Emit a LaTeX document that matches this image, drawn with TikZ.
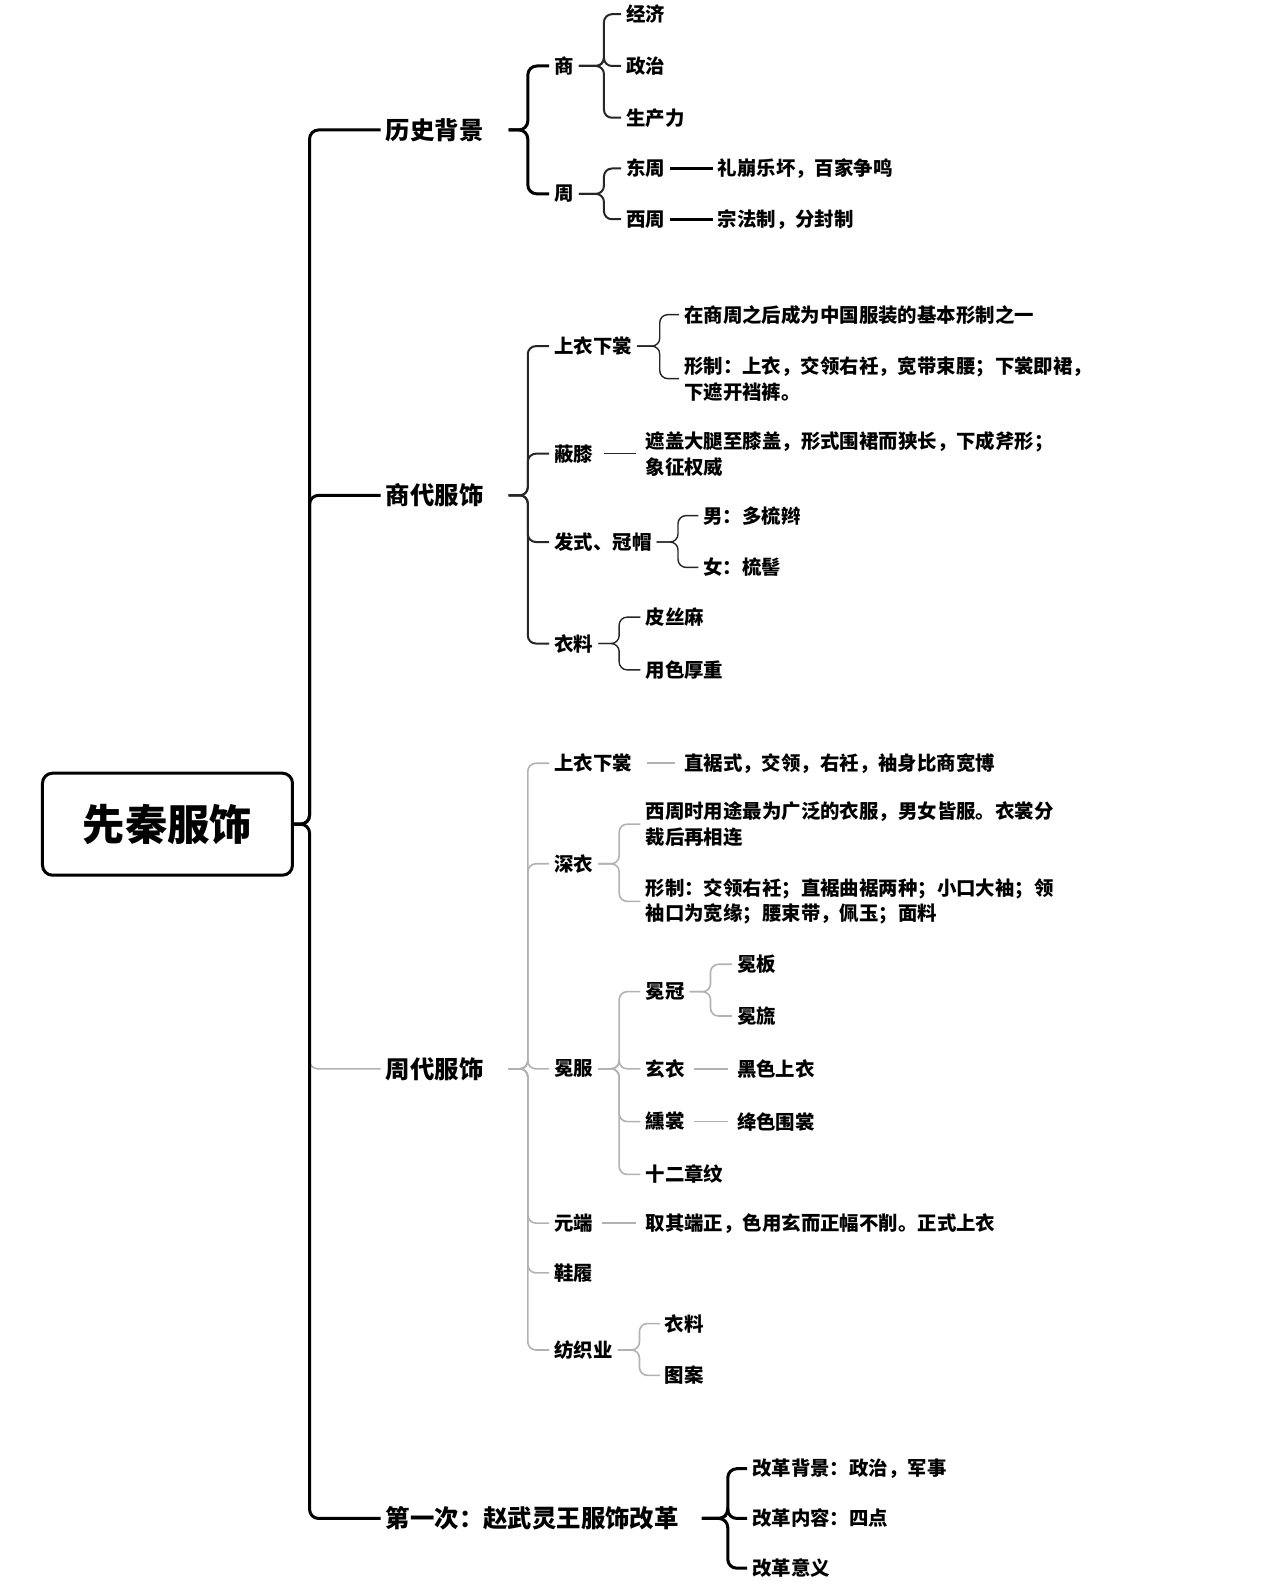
\documentclass[tikz,border=0pt]{standalone}
\usepackage{fontspec}
\setmainfont{Noto Sans CJK SC}
\begin{document}
\begin{tikzpicture}[x=1.015bp,y=-1.015bp,
  t/.style={anchor=west,inner xsep=5bp,inner ysep=1bp,font=\fontsize{19.5}{26}\selectfont\bfseries,align=left},
  m/.style={anchor=west,inner xsep=5bp,font=\fontsize{24.5}{30}\selectfont\bfseries},
  bk/.style={line width=3bp,black,rounded corners=9bp},
  dk/.style={line width=2bp,black!85,rounded corners=8bp},
  gy/.style={line width=1.6bp,black!30,rounded corners=8bp}]
\useasboundingbox (0,0) rectangle (1261,1566.5);
% root
\node[draw,line width=3bp,rounded corners=10bp,minimum width=250bp,minimum height=102bp,font=\fontsize{42.5}{46}\selectfont\bfseries] (root) at (165,812) {先秦服饰};
\node[m] (h) at (375,128) {历史背景};
\node[m] (s) at (375,488) {商代服饰};
\node[m] (z) at (375,1053) {周代服饰};
\node[m] (g) at (375,1496) {第一次：赵武灵王服饰改革};
\draw[gy] (305,1030) |- (z.west);
\draw[bk] (root.east) -- (305,812) |- (h.west);
\draw[bk] (root.east) -- (305,812) |- (s.west);
\draw[bk] (root.east) -- (305,812) |- (g.west);
% history
\node[t] (h1) at (541,65) {商};
\node[t] (h2) at (541,191) {周};
\foreach \c in {h1,h2}{\draw[bk] ([xshift=20bp]h.east) -- (520,128) |- (\c.west);}
\node[t] (a1) at (612,14) {经济};
\node[t] (a2) at (612,65) {政治};
\node[t] (a3) at (612,116) {生产力};
\foreach \c in {a1,a2,a3}{\draw[dk] (h1.east) -- (595,65) |- (\c.west);}
\node[t] (b1) at (612,166) {东周};
\node[t] (b2) at (612,216) {西周};
\foreach \c in {b1,b2}{\draw[dk] (h2.east) -- (595,191) |- (\c.west);}
\node[t] (b1a) at (702,166) {礼崩乐坏，百家争鸣};
\node[t] (b2a) at (702,216) {宗法制，分封制};
\draw[bk] (b1.east) -- (b1a.west);
\draw[bk] (b2.east) -- (b2a.west);
% shang
\node[t] (s1) at (541,341) {上衣下裳};
\node[t] (s2) at (541,447) {蔽膝};
\node[t] (s3) at (541,534) {发式、冠帽};
\node[t] (s4) at (541,634) {衣料};
\foreach \c in {s1,s2,s3,s4}{\draw[dk] ([xshift=20bp]s.east) -- (520,488) |- (\c.west);}
\node[t] (s1a) at (669,310) {在商周之后成为中国服装的基本形制之一};
\node[t] (s1b) at (669,373) {形制：上衣，交领右衽，宽带束腰；下裳即裙，\\下遮开裆裤。};
\foreach \c in {s1a,s1b}{\draw[dk,line width=1.4bp] (s1.east) -- (650,341) |- (\c.west);}
\node[t] (s2a) at (631,447) {遮盖大腿至膝盖，形式围裙而狭长，下成斧形；\\象征权威};
\draw[dk,line width=1.4bp] ([xshift=6bp]s2.east) -- ([xshift=-4bp]s2a.west);
\node[t] (s3a) at (688,508) {男：多梳辫};
\node[t] (s3b) at (688,559) {女：梳髻};
\foreach \c in {s3a,s3b}{\draw[dk,line width=1.4bp] (s3.east) -- (668,534) |- (\c.west);}
\node[t] (s4a) at (631,608) {皮丝麻};
\node[t] (s4b) at (631,660) {用色厚重};
\foreach \c in {s4a,s4b}{\draw[dk,line width=1.4bp] (s4.east) -- (610,634) |- (\c.west);}
% zhou
\node[t] (z1) at (541,752) {上衣下裳};
\node[t] (z2) at (541,851) {深衣};
\node[t] (z3) at (541,1053) {冕服};
\node[t] (z4) at (541,1205) {元端};
\node[t] (z5) at (541,1254) {鞋履};
\node[t] (z6) at (541,1330) {纺织业};
\foreach \c in {z1,z2,z3,z4,z5,z6}{\draw[gy] ([xshift=20bp]z.east) -- (520,1053) |- (\c.west);}
\node[t] (z1a) at (669,752) {直裾式，交领，右衽，袖身比商宽博};
\draw[gy] ([xshift=10bp]z1.east) -- ([xshift=-4bp]z1a.west);
\node[t] (z2a) at (631,812) {西周时用途最为广泛的衣服，男女皆服。衣裳分\\裁后再相连};
\node[t] (z2b) at (631,888) {形制：交领右衽；直裾曲裾两种；小口大袖；领\\袖口为宽缘；腰束带，佩玉；面料};
\foreach \c in {z2a,z2b}{\draw[gy] (z2.east) -- (610,851) |- (\c.west);}
\node[t] (m1) at (631,977) {冕冠};
\node[t] (m2) at (631,1053) {玄衣};
\node[t] (m3) at (631,1105) {纁裳};
\node[t] (m4) at (631,1157) {十二章纹};
\foreach \c in {m1,m2,m3,m4}{\draw[gy] (z3.east) -- (610,1053) |- (\c.west);}
\node[t] (m1a) at (721,950) {冕板};
\node[t] (m1b) at (721,1001) {冕旒};
\foreach \c in {m1a,m1b}{\draw[gy] (m1.east) -- (700,977) |- (\c.west);}
\node[t] (m2a) at (721,1053) {黑色上衣};
\node[t] (m3a) at (721,1105) {绛色围裳};
\draw[gy] ([xshift=4bp]m2.east) -- ([xshift=-4bp]m2a.west);
\draw[gy] ([xshift=4bp]m3.east) -- ([xshift=-4bp]m3a.west);
\node[t] (z4a) at (631,1205) {取其端正，色用玄而正幅不削。正式上衣};
\draw[gy] ([xshift=4bp]z4.east) -- ([xshift=-4bp]z4a.west);
\node[t] (z6a) at (650,1304) {衣料};
\node[t] (z6b) at (650,1355) {图案};
\foreach \c in {z6a,z6b}{\draw[gy] (z6.east) -- (630,1330) |- (\c.west);}
% reform
\node[t] (g1) at (736,1447) {改革背景：政治，军事};
\node[t] (g2) at (736,1496) {改革内容：四点};
\node[t] (g3) at (736,1545) {改革意义};
\foreach \c in {g1,g2,g3}{\draw[bk] ([xshift=18bp]g.east) -- (717,1496) |- (\c.west);}
\end{tikzpicture}
\end{document}
